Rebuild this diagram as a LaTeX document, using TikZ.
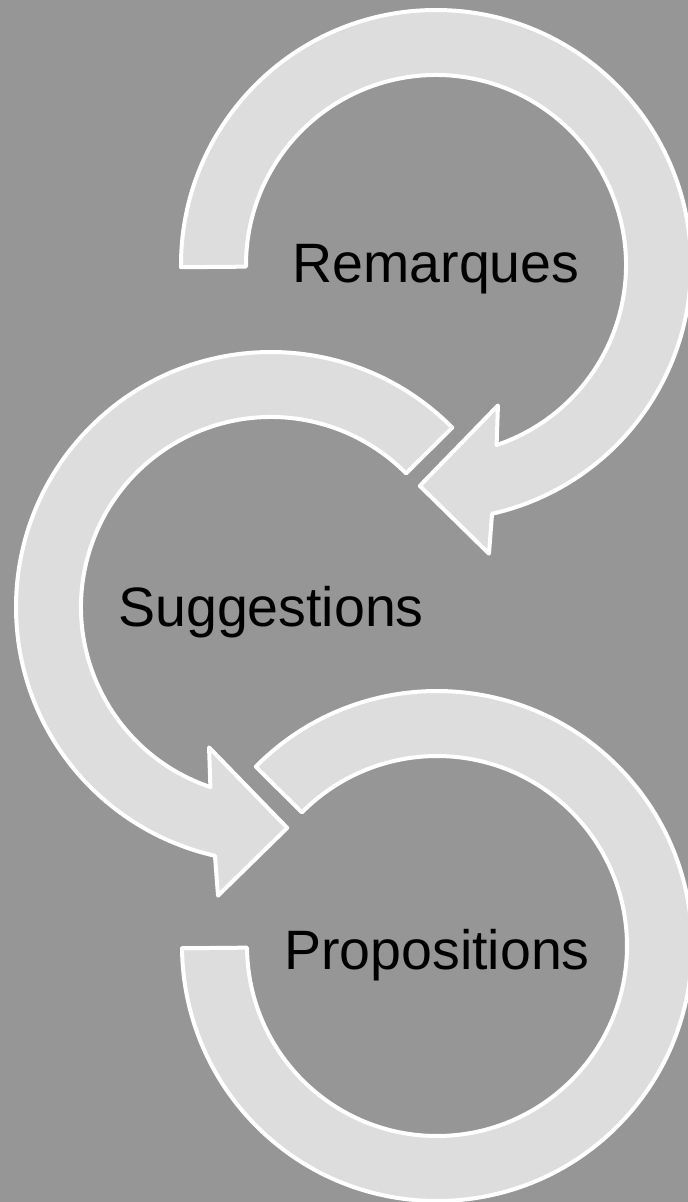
\documentclass[tikz,border=0pt]{standalone}
\usepackage{fontspec}
\setmainfont{Liberation Sans}
\usetikzlibrary{calc}
\definecolor{bggray}{RGB}{150,150,150}
\definecolor{ringfill}{RGB}{221,221,221}
\begin{document}
\begin{tikzpicture}[x=1pt,y=1pt,
    ring/.style={fill=ringfill, draw=white, line width=4pt, line join=round},
    stage/.style={anchor=base, inner sep=0pt, font=\fontsize{55.5}{60}\selectfont}]
    \fill[bggray] (0,0) rectangle (688,-1202);
    \useasboundingbox (0,0) rectangle (688,-1202);
    \coordinate (c1) at (436,-265);
    \coordinate (c2) at (271,-607);
    \coordinate (c3) at (437,-946);
    \draw[ring] ($(c1)+(180.5:190pt)$) -- ($(c1)+(180.5:255pt)$)
      arc[start angle=180.5, end angle=-77.3, radius=255pt]
      -- ($(c1)+(-79.6:293.5pt)$) -- ($(c1)+(-94.2:221.5pt)$)
      -- ($(c1)+(-66.2:153.5pt)$) -- ($(c1)+(-71.4:190pt)$)
      arc[start angle=-71.4, end angle=180.5, radius=190pt] -- cycle;
    \draw[ring] ($(c2)+(44.7:190pt)$) -- ($(c2)+(44.7:255pt)$)
      arc[start angle=44.7, end angle=257.3, radius=255pt]
      -- ($(c2)+(259.6:293.5pt)$) -- ($(c2)+(274.2:221.5pt)$)
      -- ($(c2)+(246.2:153.5pt)$) -- ($(c2)+(251.4:190pt)$)
      arc[start angle=251.4, end angle=44.7, radius=190pt] -- cycle;
    \draw[ring] ($(c3)+(135.3:190pt)$) -- ($(c3)+(135.3:255pt)$)
      arc[start angle=135.3, end angle=-179.5, radius=255pt]
      -- ($(c3)+(-179.5:190pt)$)
      arc[start angle=-179.5, end angle=135.3, radius=190pt] -- cycle;
    \node[stage] (remarques) at ($(c1)+(0,-17)$) {Remarques};
    \node[stage] (suggestions) at ($(c2)+(0,-19)$) {Suggestions};
    \node[stage] (propositions) at ($(c3)+(0,-23)$) {Propositions};
\end{tikzpicture}
\end{document}
